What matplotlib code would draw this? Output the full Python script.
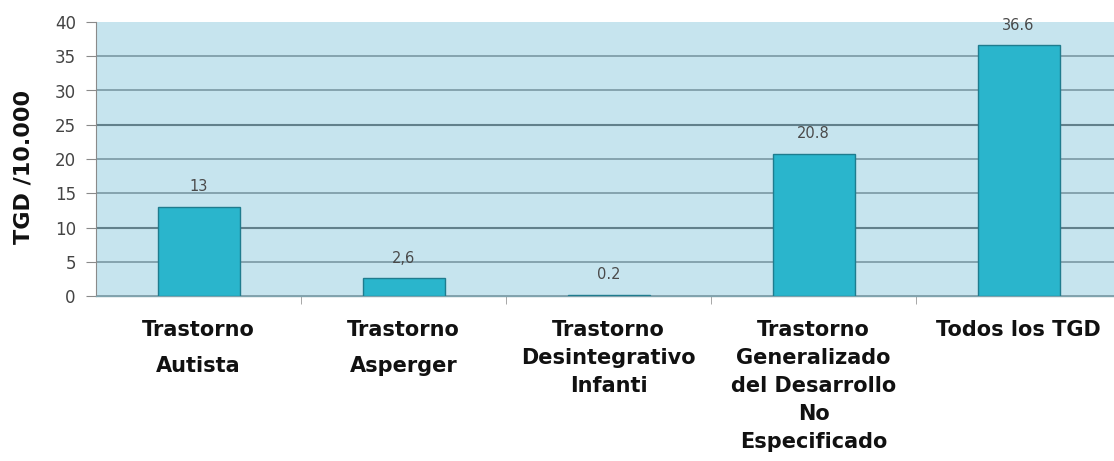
import matplotlib
matplotlib.use("Agg")
import matplotlib.pyplot as plt
import numpy as np

categories = ["Trastorno\nAutista", "Trastorno\nAsperger", "Trastorno\nDesintegrativo\nInfanti",
              "Trastorno\nGeneralizado\ndel Desarrollo\nNo\nEspecificado", "Todos los TGD"]
values = [13, 2.6, 0.2, 20.8, 36.6]
value_labels = ["13", "2,6", "0.2", "20.8", "36.6"]
yticks = [0, 5, 10, 15, 20, 25, 30, 35, 40]

fig = plt.figure(figsize=(11.14, 4.61), dpi=100)
ax = fig.add_axes([96/1114, 165/461, 1025/1114, 274/461])
ax.set_facecolor("#c6e4ee")

x = np.arange(len(categories))
ax.bar(x, values, width=0.4, color="#2ab5cc", edgecolor="#1f7c8e", linewidth=1.0, zorder=3)

for xi, v, lab in zip(x, values, value_labels):
    ax.annotate(lab, (xi, v), xytext=(0, 9), textcoords="offset points",
                ha="center", va="bottom", fontsize=10.5, color="#4a4a4a", zorder=4)

ax.set_xlim(-0.5, len(categories) - 0.5)
ax.set_ylim(0, 40)
ax.set_yticks(yticks)
ax.set_yticklabels([str(t) for t in yticks], fontsize=12, color="#444444")
ax.yaxis.grid(True, color="#73919c", linewidth=1.1, zorder=1)
ax.set_axisbelow(True)
gl = ax.yaxis.get_gridlines()
for t, line in zip(yticks, gl):
    if t == 40:
        line.set_visible(False)
    elif t in (10, 25):
        line.set_linewidth(1.5)
        line.set_color("#62808b")

for s in ["top", "right"]:
    ax.spines[s].set_visible(False)
ax.spines["left"].set_color("#8a8a8a")
ax.spines["bottom"].set_color("#7fa3ad")
ax.spines["bottom"].set_linewidth(1.0)

ax.tick_params(axis="y", length=7.5, color="#8a8a8a", pad=7)

ax.set_xticks(x)
ax.set_xticklabels(categories, fontsize=15, fontweight="bold", color="#111111", va="top")
spacings = [2.05, 2.05, 1.5, 1.5, 1.5]
for lbl, sp in zip(ax.get_xticklabels(), spacings):
    lbl.set_linespacing(sp)
ax.tick_params(axis="x", length=0, pad=17)
ax.set_xticks(np.arange(0.5, len(categories) - 0.5, 1.0), minor=True)
ax.tick_params(axis="x", which="minor", length=6, color="#999999", direction="out")

ax.set_ylabel("TGD /10.000", fontsize=16, fontweight="bold", color="#111111")
ax.yaxis.set_label_coords(-62/1025, 0.47)

fig.savefig("out.png", dpi=100)
